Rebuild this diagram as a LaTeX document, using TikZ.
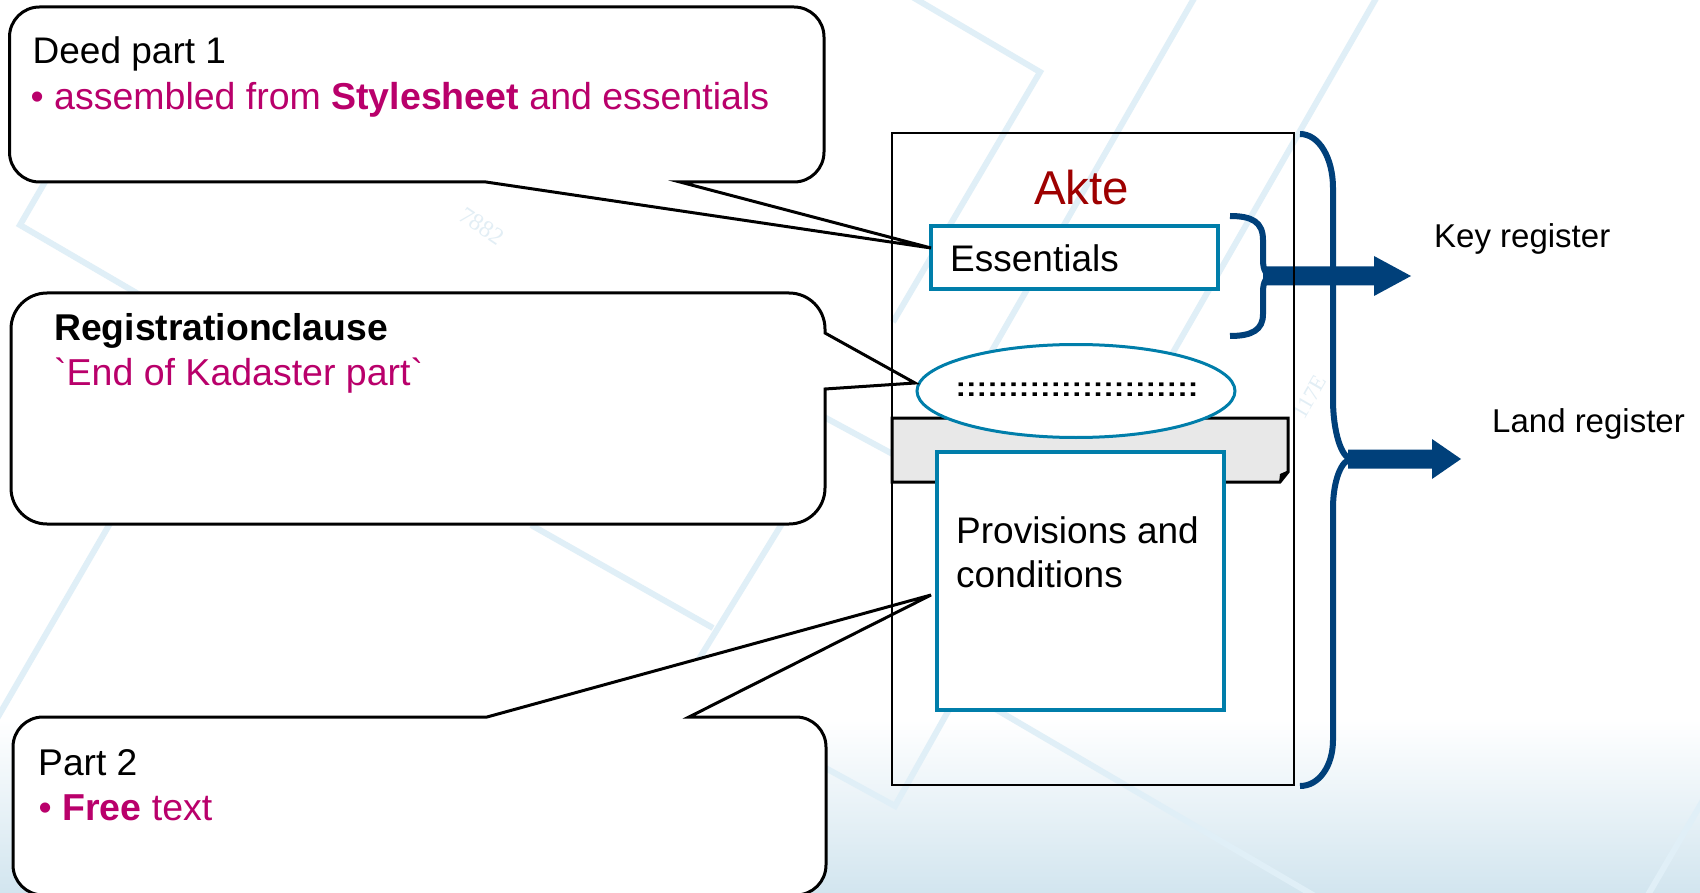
\documentclass[tikz,border=0pt]{standalone}
\usepackage{fontspec}
\setmainfont{Liberation Sans}
\newfontfamily\plainsans{Liberation Sans}
\newfontfamily\mapfont{Liberation Serif}
\usetikzlibrary{shapes.geometric,calc}

\definecolor{kmag}{RGB}{185,0,107}
\definecolor{akred}{RGB}{158,0,0}
\definecolor{boxteal}{RGB}{0,126,170}
\definecolor{kdblue}{RGB}{0,64,122}
\definecolor{gfill}{RGB}{232,232,232}
\definecolor{mapline}{RGB}{224,239,247}
\definecolor{mapbottom}{RGB}{210,229,239}
\definecolor{maptext}{RGB}{226,238,245}

% thick register arrow: from, to, head length
\newcommand\fatarrow[3]{%
  \fill[kdblue] ($(#1)+(0,-9.5)$) -- ($(#2)+(-#3,-9.5)$) -- ($(#2)+(-#3,-20)$)
    -- (#2) -- ($(#2)+(-#3,20)$) -- ($(#2)+(-#3,9.5)$) -- ($(#1)+(0,9.5)$) -- cycle;}

\begin{document}
\begin{tikzpicture}[x=1pt,y=-1pt,
  callout/.style={draw=black, line width=3pt, fill=white, line join=miter},
  bluebox/.style={draw=boxteal, line width=3.2pt, fill=white, inner sep=0pt},
  brace/.style={draw=kdblue, line width=6pt},
  txt/.style={anchor=base west, inner sep=0pt, font=\fontsize{37}{44}\selectfont},
  regtxt/.style={anchor=base west, inner sep=0pt, font=\fontsize{33}{40}\selectfont},
  mapstroke/.style={draw=mapline, line width=6pt, line join=miter},
]
\useasboundingbox (0,0) rectangle (1700,893);
\clip (0,0) rectangle (1700,893);

% background
\fill[white] (0,0) rectangle (1700,893);
\shade[top color=white, bottom color=mapbottom] (0,720) rectangle (1700,893);

% faint map lines
\draw[mapstroke] (909,-5) -- (1040,72) -- (893,322);
\draw[mapstroke] (1196,-5) -- (955,415);
\draw[mapstroke] (1378,-5) -- (1140,410);
\draw[mapstroke] (110,70) -- (20,225) -- (200,330);
\draw[mapstroke] (112,520) -- (-5,722);
\draw[mapstroke] (531,525) -- (713,628);
\draw[mapstroke] (783,522) -- (680,690);
\draw[mapstroke] (800,404) -- (900,458);
\draw[mapstroke] (820,765) -- (895,806) -- (960,690);
\draw[mapstroke] (980,700) -- (1330,905);
\draw[mapstroke] (1645,900) -- (1712,785);
\node[rotate=-34, text=maptext, font=\mapfont\fontsize{24}{24}\selectfont] (map1) at (482,226) {7882};
\node[rotate=60, text=maptext, font=\mapfont\fontsize{22}{22}\selectfont] (map2) at (1310,397) {117E};

% deed frame (outline drawn last)
\node[minimum width=402pt, minimum height=652pt, inner sep=0pt] (akte) at (1093,459) {};

% grey band with curled corner
\filldraw[fill=gfill, draw=black, line width=3pt, line join=miter]
  (892,418) -- (1288,418) -- (1288,472) -- (1280,482) -- (892,482) -- cycle;
\fill[black] (1289,470) -- (1279,483) -- (1280,474) -- cycle;

% registration clause ellipse
\node[ellipse, draw=boxteal, line width=3pt, fill=white, minimum width=318pt,
      minimum height=93pt, inner sep=0pt] (ell) at (1076,391) {};
\node[inner sep=0pt] (dots) at (1077,390)
  {\fontsize{31.7}{34}\selectfont\bfseries\scalebox{1}[0.85]{:::::::::::::::::::::::}};

% content boxes
\node[bluebox, minimum width=287pt, minimum height=258pt] (prov) at (1080.5,581) {};
\node[txt] (provA) at (956,543.3) {Provisions and};
\node[txt] (provB) at (956,587.3) {conditions};
\node[bluebox, minimum width=287pt, minimum height=63pt] (ess) at (1074.5,257.5) {};
\node[txt] (esstxt) at (950,271.5) {Essentials};

% callouts
\coordinate (tipA) at (931,248);
\coordinate (tipB) at (915,383);
\coordinate (tipC) at (931,595);
\draw[callout] (39.5,7) -- (794,7) .. controls (810.6,7) and (824,20.4) .. (824,37)
  -- (824,152) .. controls (824,168.6) and (810.6,182) .. (794,182)
  -- (680,182) -- (tipA) -- (486,182)
  -- (39.5,182) .. controls (22.9,182) and (9.5,168.6) .. (9.5,152)
  -- (9.5,37) .. controls (9.5,20.4) and (22.9,7) .. (39.5,7) -- cycle;
\draw[callout] (47,293) -- (789,293) .. controls (808.9,293) and (825,309.1) .. (825,329)
  -- (825,333) -- (tipB) -- (825,389)
  -- (825,488) .. controls (825,507.9) and (808.9,524) .. (789,524)
  -- (47,524) .. controls (27.1,524) and (11,507.9) .. (11,488)
  -- (11,329) .. controls (11,309.1) and (27.1,293) .. (47,293) -- cycle;
\draw[callout] (43,717) -- (487,717) -- (tipC) -- (689,717)
  -- (796,717) .. controls (812.6,717) and (826,730.4) .. (826,747)
  -- (826,865) .. controls (826,881.6) and (812.6,895) .. (796,895)
  -- (43,895) .. controls (26.4,895) and (13,881.6) .. (13,865)
  -- (13,747) .. controls (13,730.4) and (26.4,717) .. (43,717) -- cycle;

\node[txt] (deed) at (32.5,63.3) {Deed part 1};
\node[txt, text=kmag, font=\fontsize{37.5}{44}\selectfont] (deedsub) at (30.5,110)
  {\textbullet{} assembled from \textbf{Stylesheet} and essentials};
\node[txt, font=\fontsize{37.3}{44}\selectfont\bfseries] (reg) at (54,340) {Registrationclause};
\node[txt, text=kmag, font=\fontsize{37.5}{44}\selectfont] (regsub) at (54,385)
  {{\plainsans`}End of Kadaster part{\plainsans`}};
\node[txt, font=\fontsize{37.2}{44}\selectfont] (part2) at (38,775) {Part 2};
\node[txt, text=kmag, font=\fontsize{37.5}{44}\selectfont] (part2sub) at (38.5,820)
  {\textbullet{} \textbf{Free} text};

% braces and register arrows
\coordinate (keyfrom) at (1263,276);
\coordinate (landfrom) at (1348,459);
\node[regtxt] (keyreg) at (1434,247.5) {Key register};
\node[regtxt] (landreg) at (1492,432.8) {Land register};
\coordinate (keyto) at (1411,276);
\coordinate (landto) at (1461,459);
\fatarrow{keyfrom}{keyto}{37}
\fatarrow{landfrom}{landto}{29}
\draw[brace] (1230,216) .. controls (1252,216) and (1263,222) .. (1263,240)
  -- (1263,260) .. controls (1263,270) and (1266,275) .. (1272,276)
  .. controls (1266,277) and (1263,282) .. (1263,292)
  -- (1263,314) .. controls (1263,330) and (1252,336) .. (1230,336);
\draw[brace] (1300,134) .. controls (1319,134) and (1333,158) .. (1333,188)
  -- (1333,400) .. controls (1333,430) and (1341,459) .. (1352,459)
  .. controls (1341,459) and (1333,482) .. (1333,508)
  -- (1333,740) .. controls (1333,766) and (1319,786) .. (1300,786);

% deed frame outline and title
\draw[line width=2pt] (akte.north west) rectangle (akte.south east);
\node[anchor=base, inner sep=0pt, text=akred, font=\fontsize{47.5}{52}\selectfont]
  (aktetitle) at (1081.7,205) {Akte};
\end{tikzpicture}
\end{document}
